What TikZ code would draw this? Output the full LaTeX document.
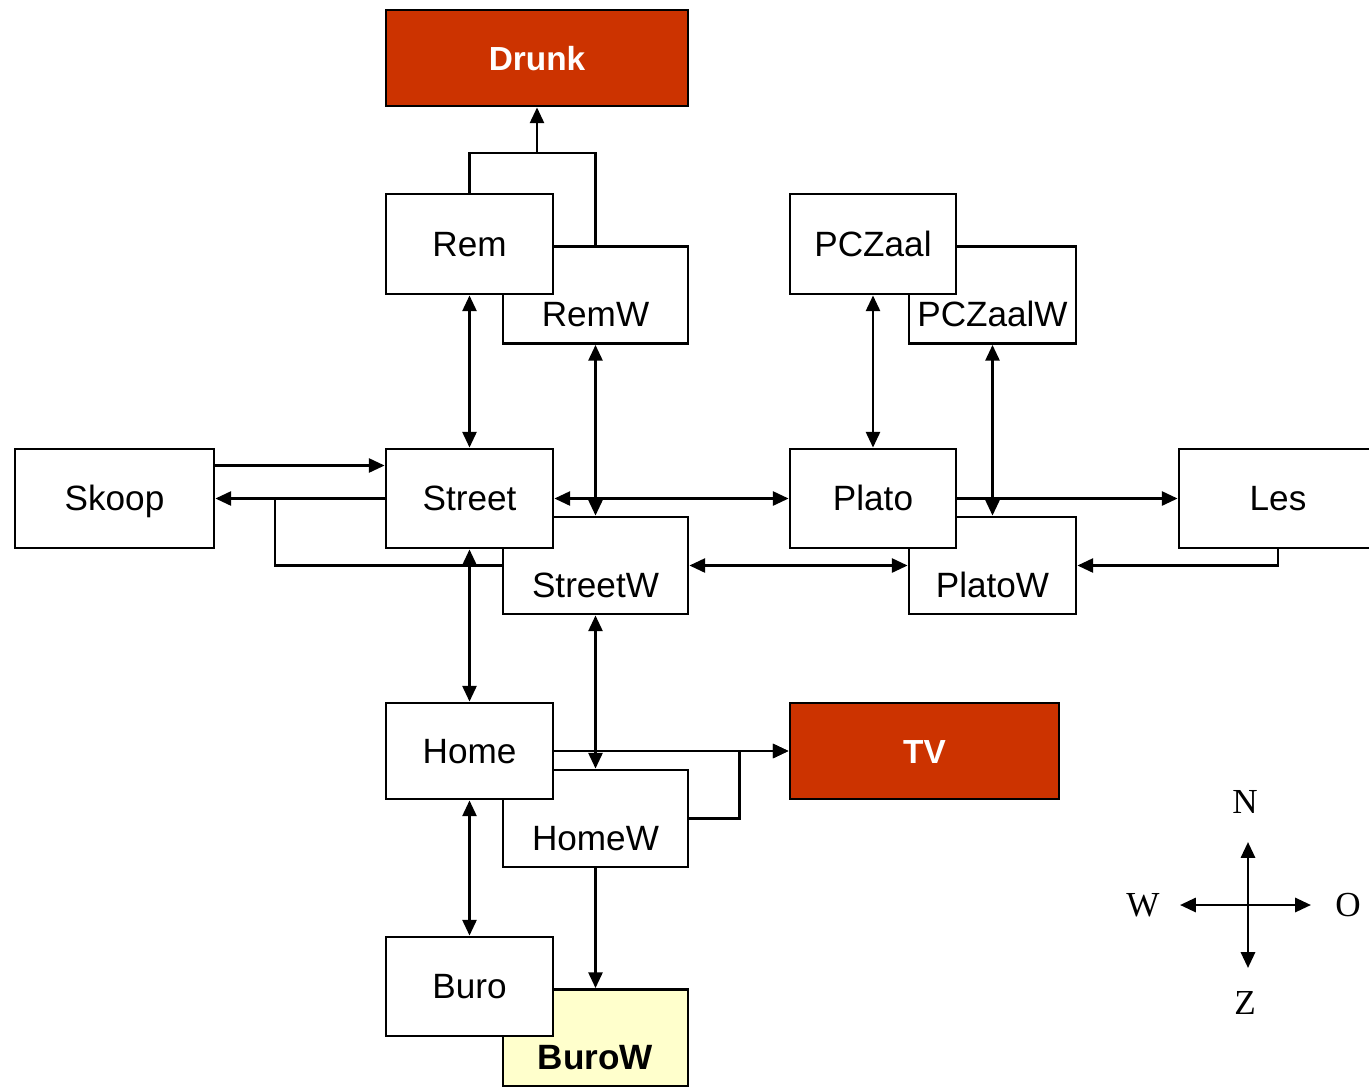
\documentclass[tikz,border=0pt]{standalone}
\usepackage{fontspec}
\setmainfont{Liberation Sans}
\newfontfamily\compassfont{Liberation Serif}
\usepackage{tikz}
\usetikzlibrary{arrows.meta,calc}
\definecolor{roomred}{RGB}{204,51,0}
\definecolor{roomyellow}{RGB}{255,255,204}

\begin{document}
\begin{tikzpicture}[x=0.02cm, y=-0.02cm, font=\fontsize{20}{24}\selectfont,
    >={Triangle[length=9pt,width=8pt]},
    mbox/.style={draw, line width=1.6pt, fill=white, inner sep=0pt,
                 minimum width=3.34cm, minimum height=1.98cm,
                 text height=14pt, text depth=0pt},
    wbox/.style={mbox, minimum width=3.7cm, minimum height=1.94cm,
                 text height=36pt},
    hot/.style={mbox, fill=roomred, text=white, font=\fontsize{19}{24}\selectfont\bfseries},
    link/.style={line width=1.5pt},
    dir/.style={font=\compassfont\fontsize{20}{24}\selectfont}]
  \useasboundingbox (0,0) rectangle (1369,1086);
  \clip (0,0) rectangle (1369,1086);

  % the W rooms lie behind the rooms
  \node[wbox] (RemW) at (595.5,295) {RemW};
  \node[wbox, minimum width=3.34cm] (PCZaalW) at (992.5,295) {PCZaalW};
  \node[wbox] (StreetW) at (595.5,565.5) {StreetW};
  \node[wbox, minimum width=3.34cm] (PlatoW) at (992.5,565.5) {PlatoW};
  \node[wbox, minimum height=1.94cm] (HomeW) at (595.5,818.5) {HomeW};
  \node[wbox, fill=roomyellow, font=\fontsize{20}{24}\selectfont\bfseries] (BuroW) at (595.5,1038) {BuroW};

  % rooms
  \node[hot, minimum width=6.04cm, minimum height=1.92cm] (Drunk) at (537,58) {Drunk};
  \node[mbox, minimum height=2cm] (Rem) at (469.5,244) {Rem};
  \node[mbox, minimum width=3.32cm, minimum height=2cm] (PCZaal) at (873,244) {PCZaal};
  \node[mbox, minimum width=3.98cm] (Skoop) at (114.5,498.5) {Skoop};
  \node[mbox] (Street) at (469.5,498.5) {Street};
  \node[mbox, minimum width=3.32cm] (Plato) at (873,498.5) {Plato};
  \node[mbox, minimum width=3.96cm] (Les) at (1278,498.5) {Les};
  \node[mbox, minimum height=1.92cm] (Home) at (469.5,751) {Home};
  \node[hot, minimum width=5.38cm, minimum height=1.92cm] (TV) at (924.5,751) {TV};
  \node[mbox] (Buro) at (469.5,986.5) {Buro};

  % to Drunk
  \coordinate (jD) at (537,153);
  \draw[link] (Rem.north) |- (jD);
  \draw[link] (RemW.north) |- (jD);
  \draw[link, ->] (jD) -- (Drunk.south);

  % north - south
  \draw[link, <->] (Rem.south) -- (Street.north);
  \draw[link, <->] (RemW.south) -- (StreetW.north);
  \draw[link, <->] (PCZaal.south) -- (Plato.north);
  \draw[link, <->] (PCZaalW.south) -- (PlatoW.north);
  \draw[link, <->] (Street.south) -- (Home.north);
  \draw[link, <->] (StreetW.south) -- (HomeW.north);
  \draw[link, <->] (Home.south) -- (Buro.north);
  \draw[link, ->] (HomeW.south) -- (BuroW.north);

  % west - east
  \draw[link, ->] ($(Skoop.east)+(0,-33)$) coordinate (sk) -- (sk -| Street.west);
  \draw[link, ->] (Street.west) -- (Skoop.east);
  \coordinate (jS) at (275,498.5);
  \draw[link] (StreetW.west) -| (jS);
  \draw[link, <->] (Street.east) -- (Plato.west);
  \draw[link, <->] (StreetW.east) -- (PlatoW.west);
  \draw[link, ->] (Plato.east) -- (Les.west);
  \draw[link, ->] (Les.south) |- (PlatoW.east);
  \draw[link, ->] (Home.east) -- (TV.west);
  \draw[link, ->] (HomeW.east) -- ++(50,0) |- (TV.west);

  % compass
  \coordinate (cmp) at (1248,905);
  \node[dir] (dN) at (1245,802) {N};
  \node[dir] (dZ) at (1245,1003) {Z};
  \node[dir] (dW) at (1143,905) {W};
  \node[dir] (dO) at (1348,905) {O};
  \draw[link, ->] (cmp) -- (1248,842);
  \draw[link, ->] (cmp) -- (1248,968);
  \draw[link, ->] (cmp) -- (1180,905);
  \draw[link, ->] (cmp) -- (1311,905);
\end{tikzpicture}
\end{document}
